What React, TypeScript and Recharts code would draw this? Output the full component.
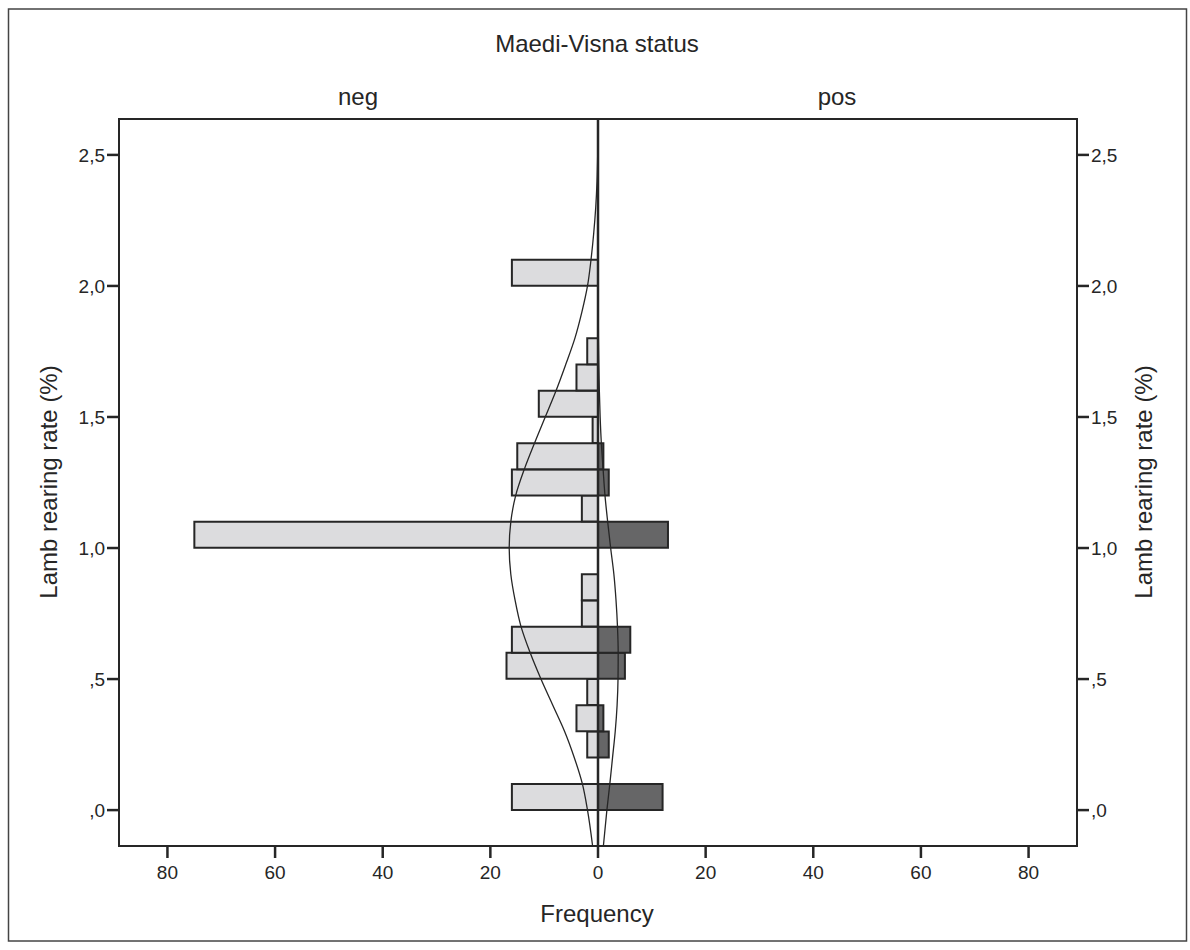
import React from 'react';
import {
  ComposedChart,
  Bar,
  Line,
  XAxis,
  YAxis,
  ReferenceLine,
  ReferenceArea,
} from 'recharts';

// Histogram bins (lamb rearing rate, bin centre) and frequencies
const binCenters = [0.05, 0.15, 0.25, 0.35, 0.45, 0.55, 0.65, 0.75, 0.85, 0.95, 1.05, 1.15, 1.25, 1.35, 1.45, 1.55, 1.65, 1.75, 1.85, 1.95, 2.05];
const negCounts = [16, null, 2, 4, 2, 17, 16, 3, 3, null, 75, 3, 16, 15, 1, 11, 4, 2, null, null, 16];
const posCounts = [12, null, 2, 1, null, 5, 6, null, null, null, 13, null, 2, 1, null, null, null, null, null, null, null];

// Fitted normal curves
const negCurveY = [-0.137, 0.0, 0.1, 0.2, 0.3, 0.4, 0.5, 0.6, 0.7, 0.8, 0.9, 1.0, 1.1, 1.2, 1.3, 1.4, 1.5, 1.6, 1.7, 1.8, 1.9, 2.0, 2.1, 2.2, 2.3, 2.4, 2.5, 2.637];
const negCurveV = [1.0, 1.95, 2.9, 4.4, 6.2, 8.4, 10.6, 12.6, 14.3, 15.4, 16.2, 16.5, 16.2, 15.3, 13.7, 11.8, 9.8, 7.8, 6.0, 4.3, 3.0, 1.95, 1.3, 0.8, 0.42, 0.18, 0.06, 0.0];
const posCurveY = [-0.137, 0.0, 0.1, 0.2, 0.3, 0.4, 0.5, 0.6, 0.7, 0.8, 0.9, 1.0, 1.1, 1.2, 1.3, 1.4, 1.5, 1.6, 1.7, 1.8, 2.0, 2.637];
const posCurveV = [1.0, 1.65, 2.2, 2.7, 3.2, 3.55, 3.72, 3.75, 3.62, 3.35, 2.95, 2.35, 1.8, 1.3, 0.95, 0.62, 0.4, 0.25, 0.15, 0.08, 0.02, 0.0];

const xTicks = [-80, -60, -40, -20, 0, 20, 40, 60, 80];
const yTicks = [0, 0.5, 1, 1.5, 2, 2.5];
const yTickLabels = [',0', ',5', '1,0', '1,5', '2,0', '2,5'];

const title = 'Maedi-Visna status';
const panelLabels = ['neg', 'pos'];
const yLabel = 'Lamb rearing rate (%)';
const xLabel = 'Frequency';

const X_DOMAIN: [number, number] = [-89, 89];
const Y_DOMAIN: [number, number] = [-0.137, 2.637];

const barData = binCenters.map((y, i) => ({
  y,
  neg: negCounts[i] == null ? null : -(negCounts[i] as number),
  pos: posCounts[i],
}));
const negCurve = negCurveY.map((y, i) => ({ y, v: -negCurveV[i] }));
const posCurve = posCurveY.map((y, i) => ({ y, v: posCurveV[i] }));

const FONT = '"Liberation Sans", Arial, Helvetica, sans-serif';
const INK = '#262626';

const yFmt = (v: number) => {
  const i = yTicks.indexOf(v);
  return i >= 0 ? yTickLabels[i] : String(v);
};

export default function App() {
  return (
    <div style={{ position: 'absolute', left: 0, top: 0, width: 1190, height: 950, background: '#fff' }}>
      <ComposedChart
        width={1190}
        height={950}
        layout="vertical"
        data={barData}
        stackOffset="sign"
        margin={{ top: 119, right: 53, bottom: 64, left: 59 }}
        style={{ fontFamily: FONT }}
      >
        <XAxis
          type="number"
          dataKey="neg"
          domain={X_DOMAIN}
          allowDataOverflow
          ticks={xTicks}
          tickFormatter={(v: number) => String(Math.abs(v))}
          height={40}
          tickSize={12}
          tickMargin={8}
          axisLine={false}
          tickLine={{ stroke: INK, strokeWidth: 2.5 }}
          tick={{ fill: INK, fontSize: 19, fontFamily: FONT }}
        />
        <YAxis
          yAxisId={0}
          type="number"
          dataKey="y"
          domain={Y_DOMAIN}
          allowDataOverflow
          reversed
          ticks={yTicks}
          tickFormatter={yFmt}
          width={60}
          tickSize={12}
          tickMargin={2}
          axisLine={false}
          tickLine={{ stroke: INK, strokeWidth: 2.5 }}
          tick={{ fill: INK, fontSize: 19, fontFamily: FONT }}
        />
        <YAxis
          yAxisId="right"
          orientation="right"
          type="number"
          dataKey="y"
          domain={Y_DOMAIN}
          allowDataOverflow
          reversed
          ticks={yTicks}
          tickFormatter={yFmt}
          width={60}
          tickSize={12}
          tickMargin={2}
          axisLine={false}
          tickLine={{ stroke: INK, strokeWidth: 2.5 }}
          tick={{ fill: INK, fontSize: 19, fontFamily: FONT }}
        />
        <ReferenceArea
          x1={X_DOMAIN[0]}
          x2={X_DOMAIN[1]}
          y1={Y_DOMAIN[0]}
          y2={Y_DOMAIN[1]}
          fill="none"
          fillOpacity={0}
          stroke={INK}
          strokeWidth={2}
          ifOverflow="visible"
        />
        <Bar dataKey="neg" stackId="s" barSize={26} fill="#dcdcde" stroke={INK} strokeWidth={2} isAnimationActive={false} />
        <Bar dataKey="pos" stackId="s" barSize={26} fill="#666667" stroke={INK} strokeWidth={2} isAnimationActive={false} />
        <Line yAxisId="right" data={negCurve} dataKey="v" type="monotone" stroke={INK} strokeWidth={1.3} dot={false} activeDot={false} isAnimationActive={false} />
        <Line yAxisId="right" data={posCurve} dataKey="v" type="monotone" stroke={INK} strokeWidth={1.3} dot={false} activeDot={false} isAnimationActive={false} />
        <ReferenceLine x={0} stroke={INK} strokeWidth={2.5} ifOverflow="visible" />
      </ComposedChart>
      <svg
        width={1190}
        height={950}
        style={{ position: 'absolute', left: 0, top: 0, pointerEvents: 'none' }}
      >
        <rect x={8.5} y={9} width={1178} height={932} fill="none" stroke="#444" strokeWidth={1.5} />
        <g fill={INK} fontFamily={FONT} fontSize={24} textAnchor="middle">
          <text x={597} y={52}>{title}</text>
          <text x={358} y={105}>{panelLabels[0]}</text>
          <text x={837} y={105}>{panelLabels[1]}</text>
          <text x={597} y={922}>{xLabel}</text>
          <text x={57} y={482} transform="rotate(-90, 57, 482)">{yLabel}</text>
          <text x={1152} y={482} transform="rotate(-90, 1152, 482)">{yLabel}</text>
        </g>
      </svg>
    </div>
  );
}
